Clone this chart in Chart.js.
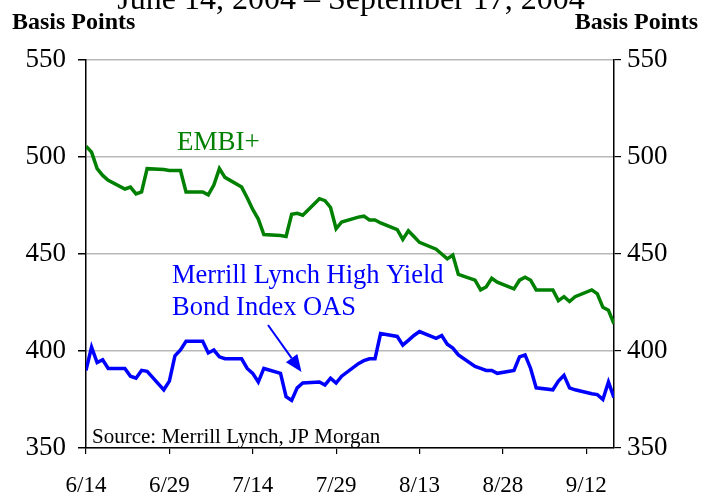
<!DOCTYPE html>
<html>
<head>
<meta charset="utf-8">
<script src="https://cdn.jsdelivr.net/npm/chart.js@4"></script>
<style>
  html, body { margin: 0; padding: 0; background: #fff; }
  #wrap { position: relative; width: 717px; height: 499px; overflow: hidden; }
  canvas { display: block; }
</style>
</head>
<body>
<div id="wrap"><canvas id="c" width="717" height="499"></canvas></div>
<script>
// ---- data ----
const dates = ["6/14","6/15","6/16","6/17","6/18","6/21","6/22","6/23","6/24","6/25",
  "6/28","6/29","6/30","7/1","7/2","7/5","7/6","7/7","7/8","7/9",
  "7/12","7/13","7/14","7/15","7/16","7/19","7/20","7/21","7/22","7/23",
  "7/26","7/27","7/28","7/29","7/30","8/2","8/3","8/4","8/5","8/6",
  "8/9","8/10","8/11","8/12","8/13","8/16","8/17","8/18","8/19","8/20",
  "8/23","8/24","8/25","8/26","8/27","8/30","8/31","9/1","9/2","9/3",
  "9/6","9/7","9/8","9/9","9/10","9/13","9/14","9/15","9/16","9/17"];

const embi = [505.5,502.5,494,490.5,488,483.5,484.5,481,482,494,
  493.5,493,493,493,482,482,480.5,485.5,494,489.5,
  484.5,479,473,468,460,459.5,459,470.5,471,470,
  478.5,477.5,474,463,466.5,469,469.5,467.5,467.5,466,
  462.5,457.5,462,459,456,452.5,450,447.5,449.5,439.5,
  436.5,431.5,433,437.5,435.5,432,436.5,438,436.5,431.5,
  431.5,426,428,425.5,428,431.5,429.5,422.5,421,414];

const hyOas = [390,402,394,395.5,391,391,387,386,390,389.5,
  380,384.5,397.5,400.5,405,405,399,400.5,397,396,
  396,391,388.5,384,391,388.5,376.5,374.5,381,383.5,
  384,382.5,386,383.5,387,393.5,395,396,396,409,
  407.5,403,405.5,408,410,406.5,408,403.5,401.5,398,
  392,391,390,390,388.5,390,397,398,391,381,
  380,384.5,387.5,381,380,378,377.5,375,384,376];

const tickLabels = ["6/14","6/29","7/14","7/29","8/13","8/28","9/12"];
const yTicks = [350,400,450,500,550];

const titleText = "June 14, 2004 \u2013 September 17, 2004";
const sourceText = "Source: Merrill Lynch, JP Morgan";

// ---- helpers ----
const startDate = new Date(2004, 5, 14);
function dayOffset(s) {
  const [m, d] = s.split("/").map(Number);
  return Math.round((new Date(2004, m - 1, d) - startDate) / 86400000);
}
const xs = dates.map(dayOffset);
const embiPts = xs.map((x, i) => ({ x: x, y: embi[i] }));
const hyPts = xs.map((x, i) => ({ x: x, y: hyOas[i] }));

const GREEN = "#008000";
const BLUE = "#0000ff";
const SERIF = "'Liberation Serif', 'Times New Roman', serif";

const annotate = {
  id: "annotate",
  afterDatasetsDraw(chart) {
    const ctx = chart.ctx;
    ctx.save();
    ctx.textBaseline = "alphabetic";
    // title (cut off at top)
    ctx.fillStyle = "#000";
    ctx.textAlign = "center";
    ctx.font = "32px " + SERIF;
    ctx.fillText(titleText, 351, 9);
    // axis unit labels
    ctx.font = "bold 24px " + SERIF;
    ctx.textAlign = "left";
    ctx.fillText("Basis Points", 12, 29);
    ctx.textAlign = "right";
    ctx.fillText("Basis Points", 698, 29);
    // source
    ctx.textAlign = "left";
    ctx.font = "21px " + SERIF;
    ctx.fillText(sourceText, 92, 443);
    // series labels
    ctx.fillStyle = GREEN;
    ctx.font = "27px " + SERIF;
    ctx.fillText("EMBI+", 177, 150);
    ctx.fillStyle = BLUE;
    ctx.font = "26.5px " + SERIF;
    ctx.fillText("Merrill Lynch High Yield", 172, 283);
    ctx.fillText("Bond Index OAS", 172, 315);
    // arrow
    const x1 = 268, y1 = 325, x2 = 301.5, y2 = 372;
    const ang = Math.atan2(y2 - y1, x2 - x1);
    const hl = 17, hw = 7;
    const bx = x2 - hl * Math.cos(ang), by = y2 - hl * Math.sin(ang);
    ctx.strokeStyle = BLUE;
    ctx.lineWidth = 2;
    ctx.beginPath();
    ctx.moveTo(x1, y1);
    ctx.lineTo(bx, by);
    ctx.stroke();
    ctx.beginPath();
    ctx.moveTo(x2, y2);
    ctx.lineTo(bx + hw * Math.sin(ang), by - hw * Math.cos(ang));
    ctx.lineTo(bx - hw * Math.sin(ang), by + hw * Math.cos(ang));
    ctx.closePath();
    ctx.fillStyle = BLUE;
    ctx.fill();
    ctx.restore();
  }
};

const yTickOpts = (pad) => ({
  color: "#000",
  font: { family: SERIF, size: 27 },
  padding: pad
});

new Chart(document.getElementById("c"), {
  type: "line",
  data: {
    datasets: [
      { label: "EMBI+", data: embiPts, borderColor: GREEN, borderWidth: 3.5, pointRadius: 0, tension: 0, yAxisID: "y" },
      { label: "Merrill Lynch High Yield Bond Index OAS", data: hyPts, borderColor: BLUE, borderWidth: 3.5, pointRadius: 0, tension: 0, yAxisID: "y" }
    ]
  },
  options: {
    responsive: false,
    animation: false,
    devicePixelRatio: 1,
    layout: { padding: { top: 60, left: 0, right: 0, bottom: 0 } },
    plugins: { legend: { display: false }, tooltip: { enabled: false }, title: { display: false } },
    scales: {
      x: {
        type: "linear",
        min: 0,
        max: 95,
        afterBuildTicks(scale) { scale.ticks = tickLabels.map((_, i) => ({ value: i * 15 })); },
        afterFit(scale) { scale.height = 51; },
        ticks: {
          color: "#000",
          font: { family: SERIF, size: 23 },
          padding: 18,
          maxRotation: 0,
          autoSkip: false,
          callback: (v) => tickLabels[Math.round(v / 15)]
        },
        grid: { drawOnChartArea: false, drawTicks: true, tickLength: 6, tickColor: "#000", lineWidth: 1.2 },
        border: { display: true, color: "#000", width: 1.5 }
      },
      y: {
        position: "left",
        min: 350,
        max: 550,
        afterBuildTicks(scale) { scale.ticks = yTicks.map(v => ({ value: v })); },
        afterFit(scale) { scale.width = 86; },
        ticks: yTickOpts(12),
        grid: { color: "#b8b8b8", lineWidth: 1.5, drawTicks: true, tickLength: 8, tickColor: "#000" },
        border: { display: true, color: "#000", width: 1.5 }
      },
      y2: {
        position: "right",
        min: 350,
        max: 550,
        afterBuildTicks(scale) { scale.ticks = yTicks.map(v => ({ value: v })); },
        afterFit(scale) { scale.width = 103; },
        ticks: yTickOpts(6),
        grid: { drawOnChartArea: false, drawTicks: true, tickLength: 7, tickColor: "#000", lineWidth: 1.2 },
        border: { display: true, color: "#000", width: 1.5 }
      }
    }
  },
  plugins: [annotate]
});
</script>
</body>
</html>
